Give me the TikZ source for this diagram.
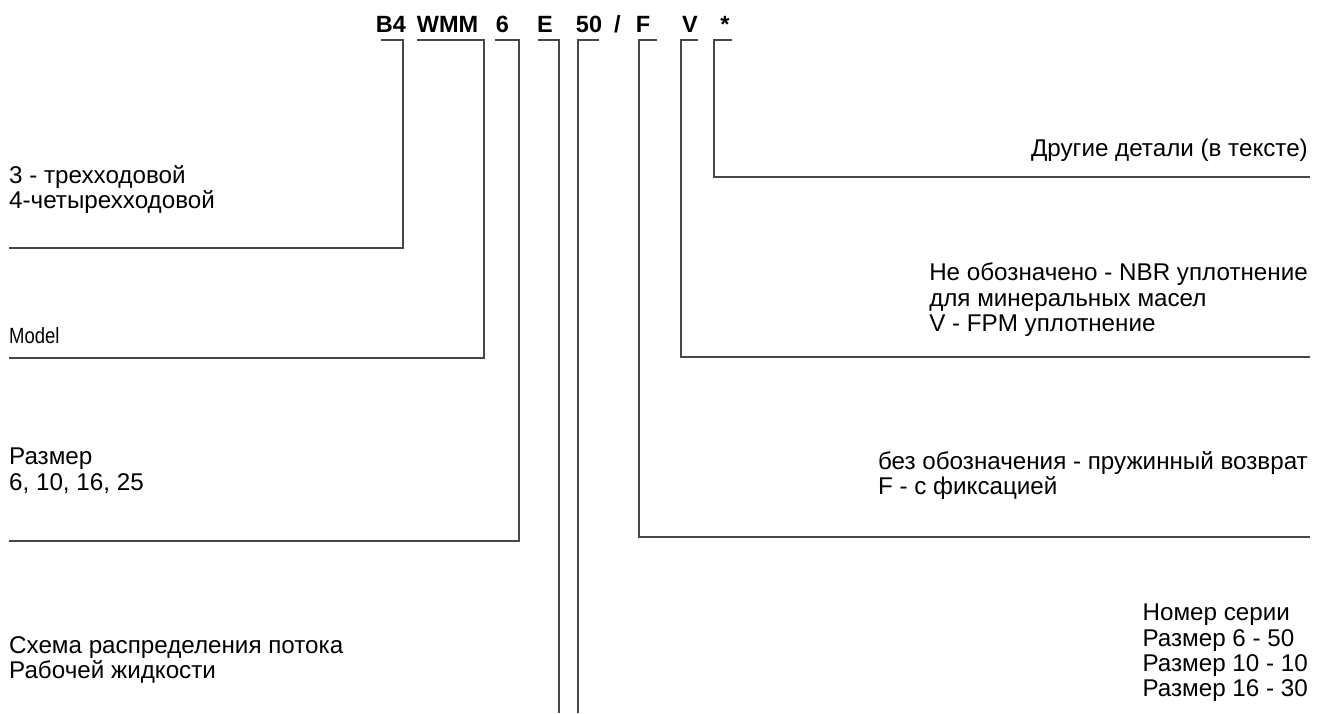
\documentclass[tikz,border=0pt]{standalone}
\usepackage{fontspec}
\setmainfont{Liberation Sans}
\newfontfamily\narrowsans[FakeStretch=0.84]{Liberation Sans}
\begin{document}
\begin{tikzpicture}[x=1pt,y=-1pt,
  lead/.style={line width=1.6pt,black!72},
  lbl/.style={inner sep=0pt,align=left,font=\fontsize{24.2}{25.3}\selectfont},
  code/.style={inner sep=0pt,anchor=base,font=\fontsize{23.5}{26}\selectfont\bfseries}]
  \useasboundingbox (0,0) rectangle (1317,713);
  % type code
  \foreach \n/\t/\x in {b4/B4/391,wmm/WMM/447.5,six/6/502.5,e/E/545,fifty/50/589,f/F/643,v/V/690,st/*/725}{
    \node[code] (\n) at (\x,32) {\t};}
  \node[code] (slash) at (617.5,32) {/};

  % leaders to the left
  \foreach \n/\xa/\xb/\yy in {b4/381/403/248,wmm/417/484/358,six/495/519/541}{
    \coordinate (\n-a) at (\xa,40); \coordinate (\n-b) at (\xb,\yy); \coordinate (\n-c) at (9,\yy);
    \draw[lead] (\n-a) -| (\n-b) -- (\n-c);}
  % leaders to the right
  \foreach \n/\xa/\xb/\yy in {f/657/639/537,v/698/681/357,st/732/714/177}{
    \coordinate (\n-a) at (\xa,40); \coordinate (\n-b) at (\xb,\yy); \coordinate (\n-c) at (1310,\yy);
    \draw[lead] (\n-a) -| (\n-b) -- (\n-c);}
  % leaders down
  \foreach \n/\xa/\xb in {e/538/559,fifty/599/578}{
    \coordinate (\n-a) at (\xa,40); \coordinate (\n-b) at (\xb,713);
    \draw[lead] (\n-a) -| (\n-b);}

  \node[lbl,anchor=north west] (ways) at (9,165) {3 - трехходовой\\4-четырехходовой};
  \node[lbl,anchor=north west,font=\narrowsans\fontsize{22}{24}\selectfont] (model) at (9,327) {Model};
  \node[lbl,anchor=north west] (size) at (9,448) {Размер\\6, 10, 16, 25};
  \node[lbl,anchor=north west] (flow) at (9,636) {Схема распределения потока\\Рабочей жидкости};
  \node[lbl,anchor=north east] (other) at (1308,139) {Другие детали (в тексте)};
  \node[lbl,anchor=north east] (seal) at (1308,263) {Не обозначено - NBR уплотнение\\для минеральных масел\\V - FPM уплотнение};
  \node[lbl,anchor=north east] (spring) at (1308,451) {без обозначения - пружинный возврат\\F - с фиксацией};
  \node[lbl,anchor=north east] (series) at (1308,604) {Номер серии\\Размер 6 - 50\\Размер 10 - 10\\Размер 16 - 30};
\end{tikzpicture}
\end{document}
